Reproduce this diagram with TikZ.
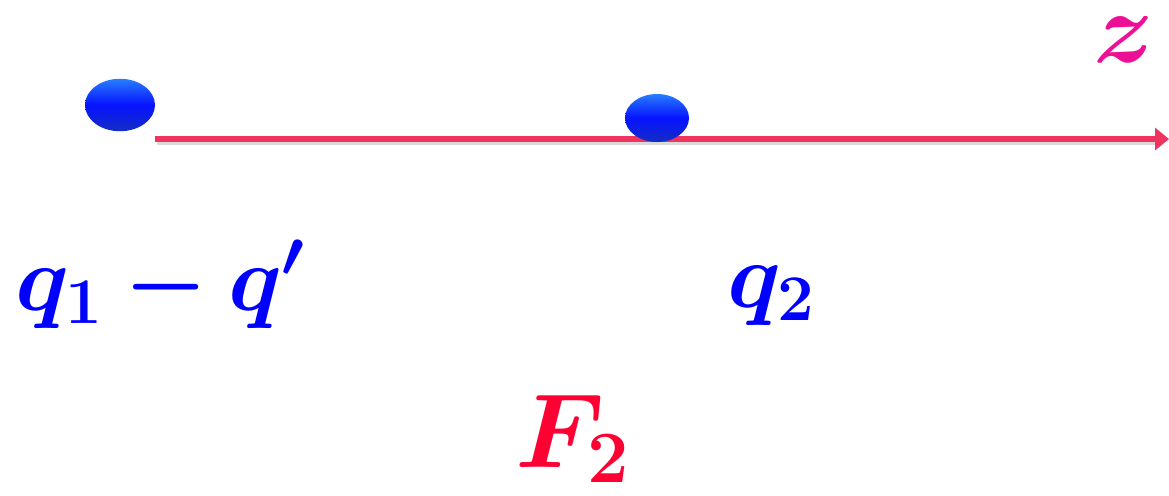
\RequirePackage{fix-cm}
\documentclass[tikz,border=0pt]{standalone}
\usepackage{amsmath,bm}
\usepackage{tikz}
\usetikzlibrary{calc,shapes,arrows.meta}

\definecolor{axisred}{RGB}{240,52,96}
\definecolor{forcered}{RGB}{255,0,51}
\definecolor{zpink}{RGB}{236,16,150}
\definecolor{chargetop}{RGB}{40,125,255}
\definecolor{chargebot}{RGB}{20,45,195}

\begin{document}
\begin{tikzpicture}[x=0.02cm,y=-0.02cm,
  charge/.style={ellipse,inner sep=0pt,top color=chargetop,bottom color=chargebot,
   middle color=blue!85!chargetop},
  lbl/.style={inner sep=0pt,text=blue,font=\fontsize{53}{56}\selectfont}]
 \useasboundingbox (0,0) rectangle (1169,495);

 \coordinate (Z0) at (155,139);
 \coordinate (Z1) at (1169,139);
 \draw[gray!30,line width=0.08cm] ($(Z0)+(2,4)$) -- ($(Z1)+(-12,4)$);
 \draw[axisred,line width=0.12cm,-{Triangle[length=0.28cm,width=0.44cm]}] (Z0) -- (Z1);

 \node[charge,minimum width=1.4cm,minimum height=1.05cm] (Q1) at (120,105) {};
 \node[charge,minimum width=1.28cm,minimum height=0.96cm] (Q2) at (657,118) {};

 \node[inner sep=0pt,anchor=base east,text=zpink,
  font=\fontsize{58}{62}\selectfont] (Z) at (1155,62) {$\bm{z}$};

 \node[lbl,anchor=base west] (L1) at (15,310) {$\bm{q_1 - q'}$};
 \node[lbl,anchor=base west] (L2) at (727,307) {$\bm{q_2}$};
 \node[lbl,anchor=base west,text=forcered,
  font=\fontsize{60}{64}\selectfont] (F2) at (515,467) {$\bm{F_2}$};
\end{tikzpicture}
\end{document}
